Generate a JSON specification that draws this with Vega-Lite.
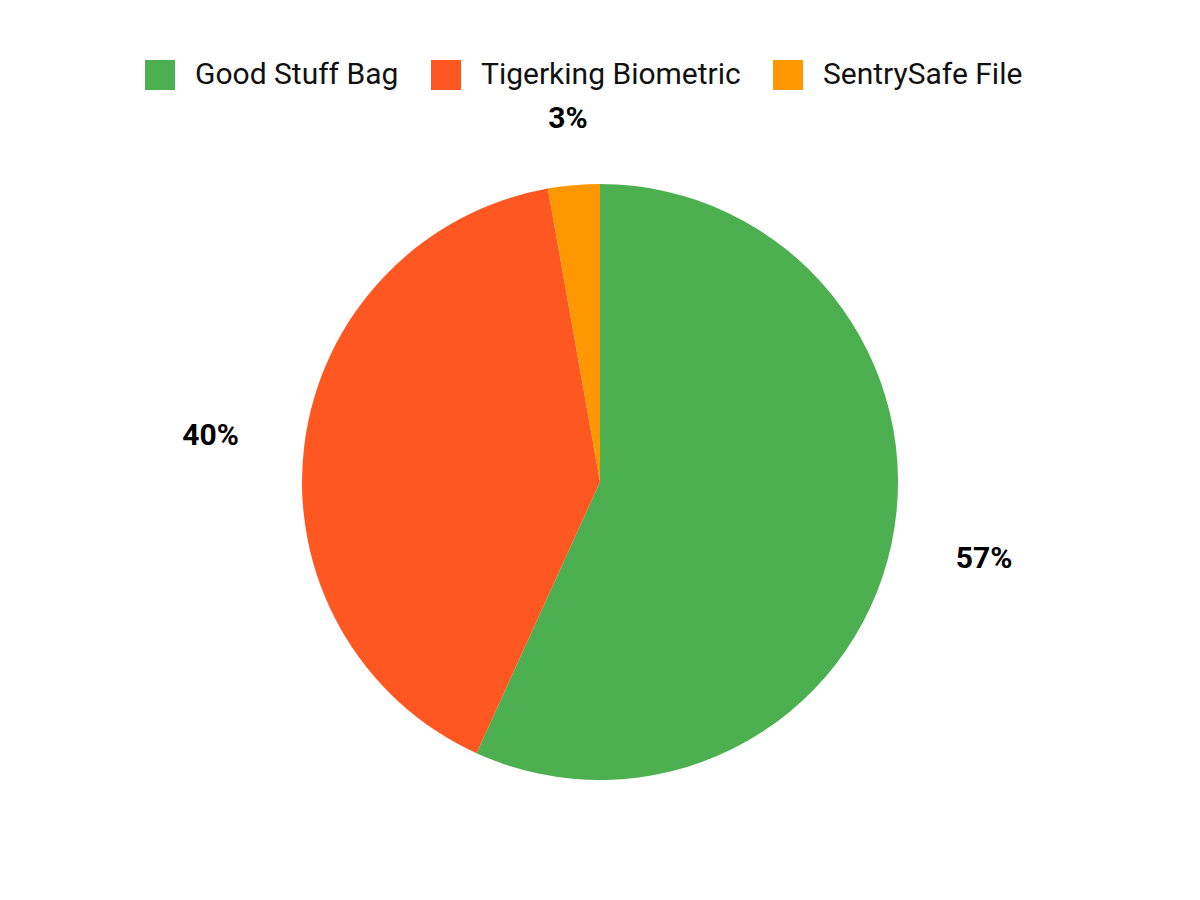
{
  "$schema": "https://vega.github.io/schema/vega-lite/v6.json",
  "description": "Share of three safes shown as a pie chart with outside percentage labels.",
  "width": 1200,
  "height": 836,
  "autosize": {"type": "none"},
  "padding": {"top": 64, "left": 0, "right": 0, "bottom": 0},
  "background": "white",
  "data": {
    "values": [
      {"product": "Good Stuff Bag", "share": 0.568},
      {"product": "Tigerking Biometric", "share": 0.404},
      {"product": "SentrySafe File", "share": 0.028}
    ]
  },
  "encoding": {
    "theta": {"field": "share", "type": "quantitative", "stack": true},
    "order": {"field": "share", "type": "quantitative", "sort": "descending"},
    "color": {
      "field": "product",
      "type": "nominal",
      "sort": ["Good Stuff Bag", "Tigerking Biometric", "SentrySafe File"],
      "scale": {
        "domain": ["Good Stuff Bag", "Tigerking Biometric", "SentrySafe File"],
        "range": ["#4CAF50", "#FF5722", "#FF9800"]
      },
      "legend": {
        "title": null,
        "orient": "none",
        "direction": "horizontal",
        "legendX": 145,
        "legendY": -4
      }
    }
  },
  "layer": [
    {"mark": {"type": "arc", "outerRadius": 298, "stroke": null}},
    {
      "mark": {
        "type": "text",
        "radius": 364,
        "fontSize": 30,
        "fontWeight": "bold",
        "baseline": "middle",
        "align": {"expr": "((datum.share_start + datum.share_end) / 2 < 0.05 || (datum.share_start + datum.share_end) / 2 > 0.95) ? 'center' : ((datum.share_start + datum.share_end) / 2 < 0.5 ? 'left' : 'right')"}
      },
      "encoding": {
        "text": {"field": "share", "type": "quantitative", "format": ".0%"},
        "color": {"value": "black"}
      }
    }
  ],
  "config": {
    "font": "Roboto",
    "view": {"stroke": null},
    "legend": {
      "symbolType": "square",
      "symbolSize": 900,
      "symbolStrokeWidth": 0,
      "symbolOpacity": 1,
      "labelFontSize": 30,
      "labelColor": "#111111",
      "labelOffset": 20,
      "columnPadding": 32,
      "labelLimit": 400
    }
  }
}
